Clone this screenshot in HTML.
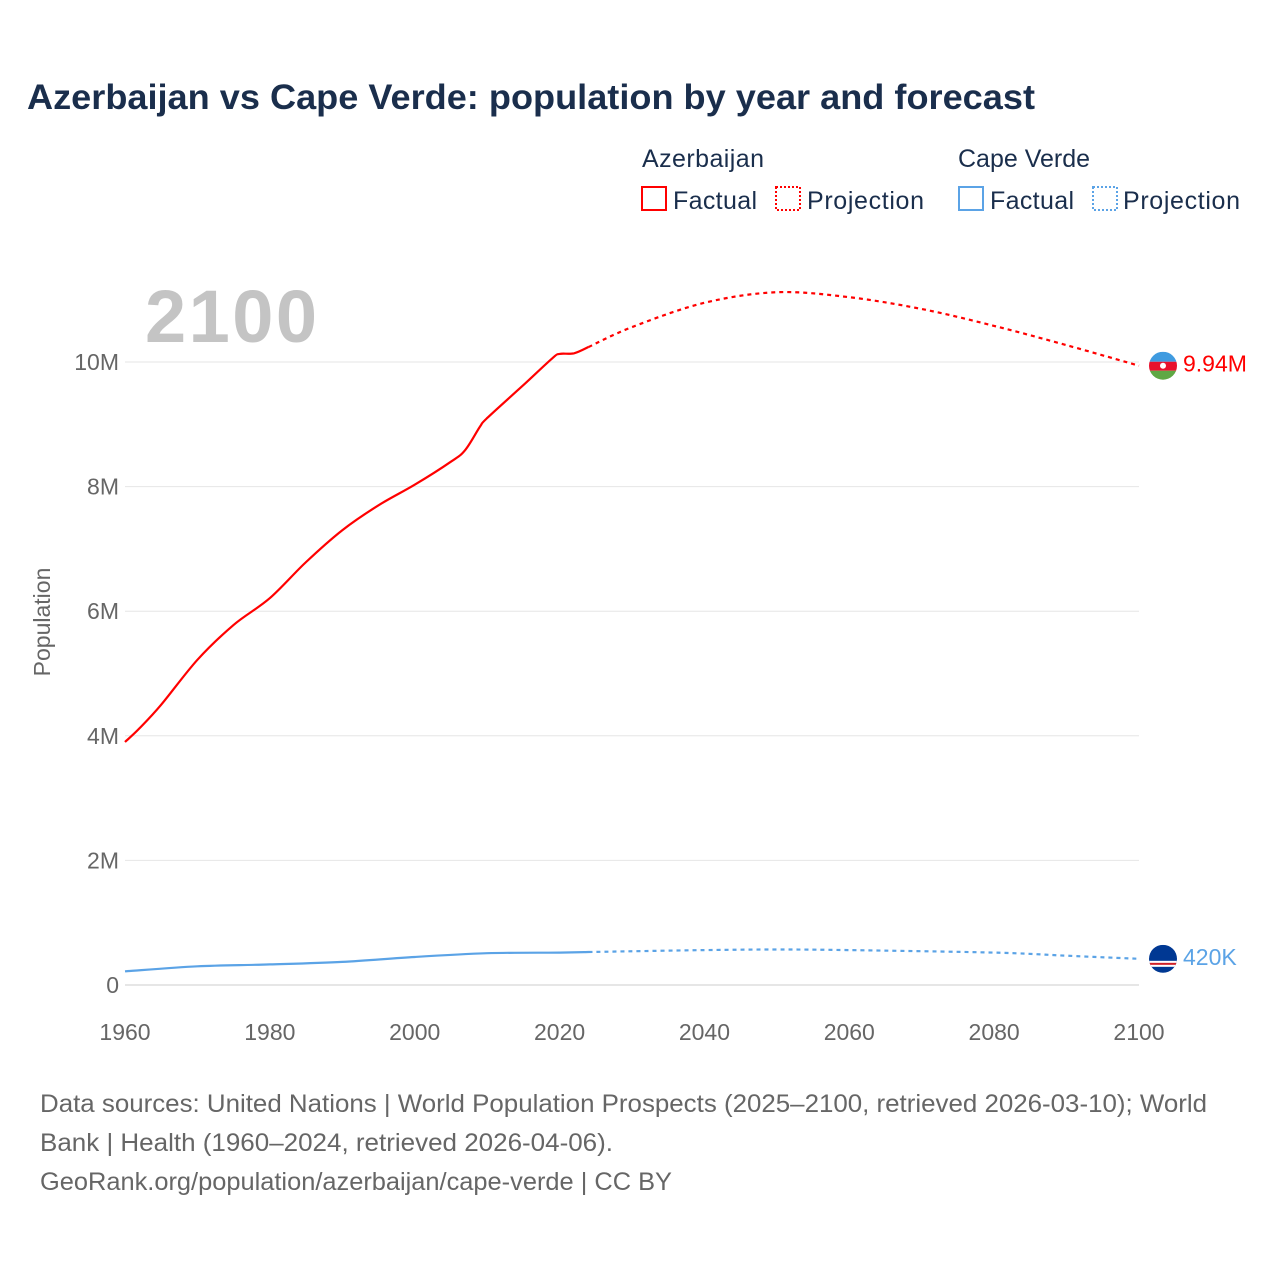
<!DOCTYPE html>
<html><head><meta charset="utf-8"><style>
body{margin:0;background:#fff;font-family:"Liberation Sans",sans-serif}
svg text{font-family:"Liberation Sans",sans-serif}
</style></head><body>
<svg width="1280" height="1280" id="c">
<rect width="1280" height="1280" fill="#fff"/>
<text x="27" y="109" font-size="35" font-weight="bold" fill="#1a2e4c" textLength="1008" lengthAdjust="spacingAndGlyphs">Azerbaijan vs Cape Verde: population by year and forecast</text>
<g font-size="25" fill="#1a2e4c">
<text x="642" y="167" fill="#1a2e4c" textLength="122">Azerbaijan</text>
<text x="958" y="167" fill="#1a2e4c" textLength="132">Cape Verde</text>
<g><rect x="642" y="187" width="24" height="23" fill="none" stroke="#f00" stroke-width="2"/><text x="673" y="209" fill="#1a2e4c" textLength="84">Factual</text></g>
<g><rect x="776" y="187" width="24" height="23" fill="none" stroke="#f00" stroke-width="2" stroke-dasharray="2,2"/><text x="807" y="209" fill="#1a2e4c" textLength="117">Projection</text></g>
<g><rect x="959" y="187" width="24" height="23" fill="none" stroke="#5ba3e6" stroke-width="2"/><text x="990" y="209" fill="#1a2e4c" textLength="84">Factual</text></g>
<g><rect x="1093" y="187" width="24" height="23" fill="none" stroke="#5ba3e6" stroke-width="2" stroke-dasharray="2,2"/><text x="1123" y="209" fill="#1a2e4c" textLength="117">Projection</text></g>
</g>
<text x="145" y="342" font-size="74" font-weight="bold" fill="#c4c4c4" textLength="172">2100</text>
<text transform="translate(50,622) rotate(-90)" text-anchor="middle" font-size="23" fill="#666">Population</text>
<g id="grid"></g><g id="series"></g>
<text x="40" y="1112" font-size="25" fill="#666" textLength="1167" lengthAdjust="spacingAndGlyphs">Data sources: United Nations | World Population Prospects (2025–2100, retrieved 2026-03-10); World</text>
<text x="40" y="1151" font-size="25" fill="#666" textLength="573" lengthAdjust="spacingAndGlyphs">Bank | Health (1960–2024, retrieved 2026-04-06).</text>
<text x="40" y="1190" font-size="25" fill="#666" textLength="632" lengthAdjust="spacingAndGlyphs">GeoRank.org/population/azerbaijan/cape-verde | CC BY</text>
</svg>
<script>
const yTicks=[0,2,4,6,8,10];
const yTickLabels=["0","2M","4M","6M","8M","10M"];
const xTicks=[1960,1980,2000,2020,2040,2060,2080,2100];
const azYears=[1960,1962,1965,1970,1975,1980,1985,1990,1995,2000,2005,2007,2009,2010,2015,2019,2020,2022,2024];
const azValues=[3.90,4.12,4.50,5.22,5.78,6.21,6.79,7.30,7.70,8.03,8.40,8.59,8.96,9.10,9.63,10.06,10.13,10.14,10.24];
const azProjYears=[2024,2030,2040,2050,2060,2070,2080,2090,2100];
const azProjValues=[10.24,10.56,10.95,11.12,11.04,10.85,10.58,10.27,9.94];
const cvYears=[1960,1970,1980,1990,2000,2010,2020,2024];
const cvValues=[0.22,0.30,0.33,0.37,0.45,0.51,0.52,0.53];
const cvProjYears=[2024,2040,2050,2060,2080,2090,2100];
const cvProjValues=[0.53,0.56,0.57,0.56,0.52,0.47,0.42];
const NS="http://www.w3.org/2000/svg";
const X=y=>125+(y-1960)*(1014/140);
const Y=v=>985-v*62.3;
const grid=document.getElementById('grid'),ser=document.getElementById('series');
function mk(tag,attrs,parent){const e=document.createElementNS(NS,tag);for(const k in attrs)e.setAttribute(k,attrs[k]);parent.appendChild(e);return e;}
yTicks.forEach((t,i)=>{
 const l=mk('line',{x1:125,x2:1139,y1:Y(t),y2:Y(t),stroke:t===0?'#ccc':'#e6e6e6','stroke-width':1},grid);
 
 
 const tx=mk('text',{x:119,y:Y(t)+8,'text-anchor':'end','font-size':23,fill:'#666'},grid);tx.textContent=yTickLabels[i];
 
 
});
xTicks.forEach(t=>{
 const tx=mk('text',{x:X(t),y:1040,'text-anchor':'middle','font-size':23,fill:'#666'},grid);tx.textContent=t;
 
 
});
function line(xs,vs,color,dash,name){
 const P=xs.map((x,i)=>[X(x),Y(vs[i])]);
 let d='M'+P[0][0].toFixed(1)+','+P[0][1].toFixed(1);
 for(let i=0;i<P.length-1;i++){
  const p0=P[Math.max(i-1,0)],p1=P[i],p2=P[i+1],p3=P[Math.min(i+2,P.length-1)];
  const c1=[p1[0]+(p2[0]-p0[0])/6,p1[1]+(p2[1]-p0[1])/6],c2=[p2[0]-(p3[0]-p1[0])/6,p2[1]-(p3[1]-p1[1])/6];
  d+='C'+c1.map(v=>v.toFixed(1)).join(',')+' '+c2.map(v=>v.toFixed(1)).join(',')+' '+p2.map(v=>v.toFixed(1)).join(',');
 }
 const p=mk('path',{d:d,fill:'none',stroke:color,'stroke-width':2.2,'stroke-linejoin':'round'},ser);
 if(dash)p.setAttribute('stroke-dasharray','4,4');
 
 
}
line(azYears,azValues,'#f00',false,'azerbaijan-factual-line');
line(azProjYears,azProjValues,'#f00',true,'azerbaijan-projection-line');
line(cvYears,cvValues,'#5ba3e6',false,'capeverde-factual-line');
line(cvProjYears,cvProjValues,'#5ba3e6',true,'capeverde-projection-line');
const ay=Y(azProjValues[azProjValues.length-1]),cy=Y(cvProjValues[cvProjValues.length-1]);
const fa=mk('g',{},ser);


const ca=mk('clipPath',{id:'ca'},fa);mk('circle',{cx:1163,cy:ay,r:14},ca);
const ga=mk('g',{'clip-path':'url(#ca)'},fa);
mk('rect',{x:1149,y:ay-14,width:28,height:10,fill:'#3f9be0'},ga);
mk('rect',{x:1149,y:ay-4,width:28,height:9,fill:'#e8112d'},ga);
mk('rect',{x:1149,y:ay+5,width:28,height:10,fill:'#5fa844'},ga);
mk('circle',{cx:1163,cy:ay,r:3,fill:'#fff'},ga);
const fc=mk('g',{},ser);


const cp=mk('clipPath',{id:'cc'},fc);mk('circle',{cx:1163,cy:cy,r:14},cp);
const gc=mk('g',{'clip-path':'url(#cc)'},fc);
mk('rect',{x:1149,y:cy-14,width:28,height:28,fill:'#003893'},gc);
mk('rect',{x:1149,y:cy+2,width:28,height:6,fill:'#fff'},gc);
mk('rect',{x:1149,y:cy+4,width:28,height:2,fill:'#cf2027'},gc);
const la=mk('text',{x:1183,y:ay+6,'font-size':23,fill:'#f00'},ser);la.textContent='9.94M';


const lc=mk('text',{x:1183,y:cy+6,'font-size':23,fill:'#5ba3e6'},ser);lc.textContent='420K';


</script>
</body></html>
